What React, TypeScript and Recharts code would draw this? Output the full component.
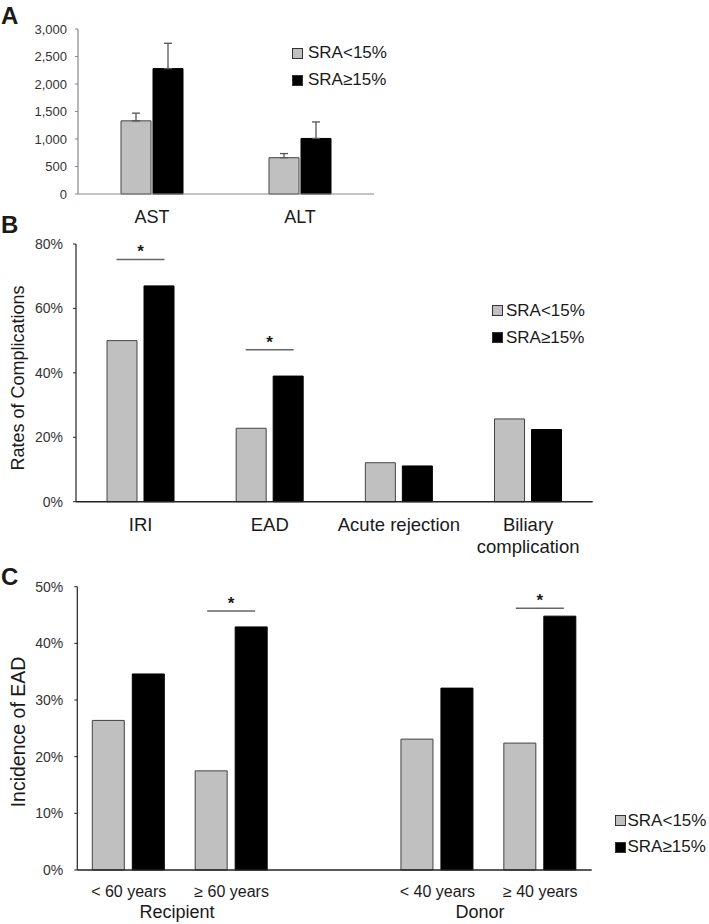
import React from "react";
import { BarChart, Bar, XAxis, YAxis, ErrorBar, LabelList, Legend } from "recharts";

const FONT = '"Liberation Sans", Arial, sans-serif';
const LIGHT = "#c0c0c0";
const DARK = "#000000";
const INK = "#1a1a1a";

// A: peak enzymes
const enzymeLabels = ["AST", "ALT"];
const enzymeLow = [1330, 660];
const enzymeLowErr = [140, 75];
const enzymeHigh = [2280, 1010];
const enzymeHighErr = [460, 300];
const enzymeTicks = [0, 500, 1000, 1500, 2000, 2500, 3000];

// B: complications (%)
const compLabels = ["IRI", "EAD", "Acute rejection", "Biliary\ncomplication"];
const compLow = [50.0, 22.8, 12.1, 25.7];
const compHigh = [67.0, 39.0, 11.1, 22.4];
const compSig = [75.2, 47.2, null, null];
const compTicks = [0, 20, 40, 60, 80];

// C: EAD incidence by age (%), middle slot is the gap between groups
const eadLabels = ["< 60 years", "≥ 60 years", "", "< 40 years", "≥ 40 years"];
const eadLow = [26.4, 17.5, null, 23.1, 22.4];
const eadHigh = [34.6, 42.9, null, 32.1, 44.8];
const eadSig = [null, 45.7, null, null, 46.2];
const eadTicks = [0, 10, 20, 30, 40, 50];

const seriesNames = ["SRA<15%", "SRA≥15%"];

const dataA = enzymeLabels.map((name, i) => ({
  name,
  low: enzymeLow[i],
  lowErr: [0, enzymeLowErr[i]],
  high: enzymeHigh[i],
  highErr: [0, enzymeHighErr[i]],
}));
const dataB = compLabels.map((name, i) => ({ name, low: compLow[i], high: compHigh[i] }));
const dataC = eadLabels.map((name, i) => ({ name, low: eadLow[i], high: eadHigh[i] }));

const yTick = (fmt: (v: number) => string, size: number, gap: number) => (props: any) => {
  const { x, y, payload } = props;
  return (
    <text x={x - gap} y={y} dy="0.35em" textAnchor="end" fontSize={size} fontFamily={FONT} fill="#333">
      {fmt(payload.value)}
    </text>
  );
};

const xTick = (size: number, gap: number, lineH: number) => (props: any) => {
  const { x, y, payload } = props;
  const lines = String(payload.value).split("\n");
  return (
    <text x={x} y={y + gap} textAnchor="middle" fontSize={size} fontFamily={FONT} fill={INK}>
      {lines.map((l, i) => (
        <tspan key={i} x={x} dy={i === 0 ? "0.35em" : lineH}>
          {l}
        </tspan>
      ))}
    </text>
  );
};

// significance bracket drawn from the black bar's geometry
const sigMark = (levels: (number | null)[], values: (number | null)[], gap: number) => (props: any) => {
  const { x, y, width, height, value } = props;
  const i = values.indexOf(Number(value));
  if (i < 0) return null;
  const level = levels[i];
  if (level == null) return null;
  const bx = Number(x), by = Number(y), bw = Number(width), bh = Number(height);
  const lineY = by + bh - (level / Number(value)) * bh;
  const cx = (bx - gap - bw + bx + bw) / 2;
  return (
    <g>
      <line x1={cx - 24} x2={cx + 24} y1={lineY} y2={lineY} stroke="#666" strokeWidth={1.5} />
      <text x={cx} y={lineY - 2} textAnchor="middle" fontSize={17} fontWeight="bold" fontFamily={FONT} fill={INK}>
        *
      </text>
    </g>
  );
};

const legendBox = (rowH: number, gap: number) => (props: any) => (
  <div style={{ fontFamily: FONT, fontSize: 17, color: INK }}>
    {(props.payload || []).map((p: any) => (
      <div key={p.value} style={{ display: "flex", alignItems: "center", height: rowH, whiteSpace: "nowrap" }}>
        <span
          style={{
            display: "inline-block",
            width: 9,
            height: 9,
            background: p.color,
            border: "1px solid #333",
            marginRight: gap,
          }}
        />
        {p.value}
      </div>
    ))}
  </div>
);

const pct = (v: number) => `${v}%`;
const comma = (v: number) => v.toLocaleString("en-US");

export default function App() {
  return (
    <div style={{ position: "absolute", left: 0, top: 0, width: 709, height: 924, background: "#fff", overflow: "hidden" }}>
      <div style={{ position: "absolute", left: 0, top: 0 }}>
        <BarChart width={709} height={240} data={dataA} margin={{ top: 29, right: 335, bottom: 6, left: 0 }} barSize={30} barGap={2}>
          <XAxis dataKey="name" height={40} interval={0} tickLine={false} tickSize={0} tickMargin={0}
            axisLine={{ stroke: "#888", strokeWidth: 1.2 }} tick={xTick(18, 22.7, 20)} />
          <YAxis domain={[0, 3000]} ticks={enzymeTicks} interval={0} width={78} tickLine={{ stroke: "#888" }} tickSize={3} tickMargin={0}
            axisLine={{ stroke: "#888", strokeWidth: 1.2 }} tick={yTick(comma, 13, 8)} />
          <Legend layout="vertical" align="center" verticalAlign="middle" content={legendBox(27, 5)}
            wrapperStyle={{ left: 292, top: 39.5, width: 120, margin: 0, padding: 0 }} />
          <Bar dataKey="low" name={seriesNames[0]} fill={LIGHT} stroke="#444" strokeWidth={1} isAnimationActive={false}>
            <ErrorBar dataKey="lowErr" width={4} stroke="#555" strokeWidth={1.3} direction="y" />
          </Bar>
          <Bar dataKey="high" name={seriesNames[1]} fill={DARK} stroke={DARK} strokeWidth={1} isAnimationActive={false}>
            <ErrorBar dataKey="highErr" width={4} stroke="#555" strokeWidth={1.3} direction="y" />
          </Bar>
        </BarChart>
      </div>

      <div style={{ position: "absolute", left: 0, top: 230 }}>
        <BarChart width={709} height={330} data={dataB} margin={{ top: 14, right: 116.3, bottom: 8.3, left: 0 }} barSize={30} barGap={7}>
          <XAxis dataKey="name" height={50} interval={0} tickLine={false} tickSize={0} tickMargin={0}
            axisLine={{ stroke: "#222", strokeWidth: 1.5 }} tick={xTick(18.5, 23.3, 21.7)} />
          <YAxis domain={[0, 80]} ticks={compTicks} interval={0} width={76} tickLine={{ stroke: "#222" }} tickSize={3} tickMargin={0}
            axisLine={{ stroke: "#222", strokeWidth: 1.2 }} tick={yTick(pct, 14, 10)} />
          <Legend layout="vertical" align="center" verticalAlign="middle" content={legendBox(26.7, 3.3)}
            wrapperStyle={{ left: 491.7, top: 67.6, width: 120, margin: 0, padding: 0 }} />
          <Bar dataKey="low" name={seriesNames[0]} fill={LIGHT} stroke="#444" strokeWidth={1} isAnimationActive={false} />
          <Bar dataKey="high" name={seriesNames[1]} fill={DARK} stroke={DARK} strokeWidth={1} isAnimationActive={false}>
            <LabelList dataKey="high" content={sigMark(compSig, compHigh, 7)} />
          </Bar>
        </BarChart>
      </div>

      <div style={{ position: "absolute", left: 0, top: 570 }}>
        <BarChart width={709} height={354} data={dataC} margin={{ top: 16.7, right: 117.3, bottom: 14, left: 0 }} barSize={32} barGap={8}>
          <XAxis dataKey="name" height={40} interval={0} tickLine={false} tickSize={0} tickMargin={0}
            axisLine={{ stroke: "#222", strokeWidth: 1.5 }} tick={xTick(16, 21, 20)} />
          <YAxis domain={[0, 50]} ticks={eadTicks} interval={0} width={77.3} tickLine={{ stroke: "#222" }} tickSize={3} tickMargin={0}
            axisLine={{ stroke: "#222", strokeWidth: 1.2 }} tick={yTick(pct, 14, 11)} />
          <Legend layout="vertical" align="center" verticalAlign="middle" content={legendBox(26.7, 1.5)}
            wrapperStyle={{ left: 615, top: 237.3, width: 94, margin: 0, padding: 0 }} />
          <Bar dataKey="low" name={seriesNames[0]} fill={LIGHT} stroke="#444" strokeWidth={1} isAnimationActive={false} />
          <Bar dataKey="high" name={seriesNames[1]} fill={DARK} stroke={DARK} strokeWidth={1} isAnimationActive={false}>
            <LabelList dataKey="high" content={sigMark(eadSig, eadHigh, 8)} />
          </Bar>
        </BarChart>
      </div>

      <svg width={709} height={924} style={{ position: "absolute", left: 0, top: 0, pointerEvents: "none" }}>
        <g fontFamily={FONT} fill={INK}>
          <text x={1} y={15} dominantBaseline="central" fontSize={24} fontWeight="bold">A</text>
          <text x={1} y={224.5} dominantBaseline="central" fontSize={24} fontWeight="bold">B</text>
          <text x={1} y={576} dominantBaseline="central" fontSize={24} fontWeight="bold">C</text>
          <text transform="translate(18,378) rotate(-90)" textAnchor="middle" dominantBaseline="central" fontSize={18}>
            Rates of Complications
          </text>
          <text transform="translate(18,732) rotate(-90)" textAnchor="middle" dominantBaseline="central" fontSize={19.5}>
            Incidence of EAD
          </text>
          <text x={177} y={911.7} textAnchor="middle" dominantBaseline="central" fontSize={18}>Recipient</text>
          <text x={480} y={911.7} textAnchor="middle" dominantBaseline="central" fontSize={18}>Donor</text>
        </g>
      </svg>
    </div>
  );
}
